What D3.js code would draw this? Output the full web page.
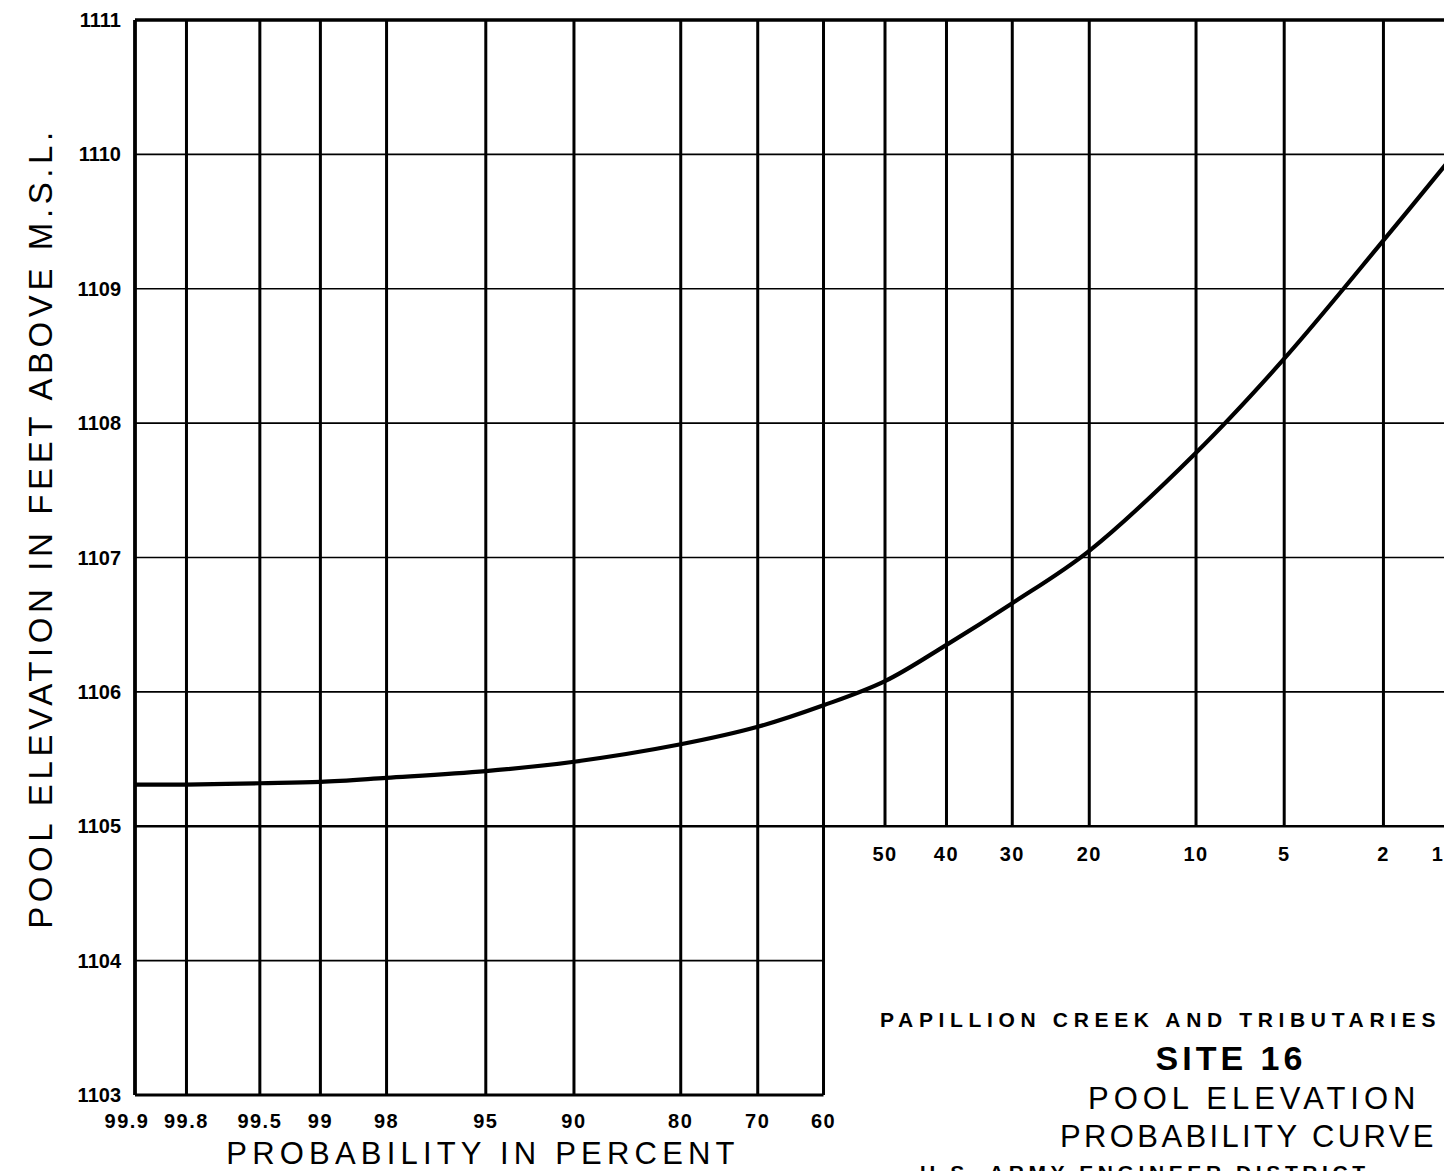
<!DOCTYPE html>
<html>
<head>
<meta charset="utf-8">
<script src="https://cdn.jsdelivr.net/npm/d3@7/dist/d3.min.js"></script>
<style>
  html, body { margin: 0; padding: 0; background: #fff; }
  svg { display: block; }
</style>
</head>
<body>
<svg id="chart" width="1444" height="1171"></svg>
<script>
// ---- data ----
const leftProbLabels  = ["99.9", "99.8", "99.5", "99", "98", "95", "90", "80", "70", "60"];
const rightProbLabels = ["50", "40", "30", "20", "10", "5", "2", "1"];
const leftProbs  = [99.9, 99.8, 99.5, 99, 98, 95, 90, 80, 70, 60];
const rightProbs = [50, 40, 30, 20, 10, 5, 2, 1];
const elevTicksFull  = [1103, 1104, 1105, 1106, 1107, 1108, 1109, 1110, 1111];
// curve: exceedance probability (%) vs pool elevation (ft)
const curveProb = [99.9, 99.8, 99.5, 99, 98, 95, 90, 80, 70, 60, 50, 40, 30, 20, 10, 5, 2, 1];
const curveElev = [1105.31, 1105.31, 1105.32, 1105.33, 1105.36, 1105.41, 1105.48, 1105.61, 1105.74, 1105.90,
                   1106.08, 1106.35, 1106.66, 1107.05, 1107.78, 1108.48, 1109.36, 1109.96];

// ---- inverse normal CDF (probability-paper transform) ----
function invNorm(p) {
  const a = [-3.969683028665376e+01, 2.209460984245205e+02, -2.759285104469687e+02, 1.383577518672690e+02, -3.066479806614716e+01, 2.506628277459239e+00];
  const b = [-5.447609879822406e+01, 1.615858368580409e+02, -1.556989798598866e+02, 6.680131188771972e+01, -1.328068155288572e+01];
  const c = [-7.784894002430293e-03, -3.223964580411365e-01, -2.400758277161838e+00, -2.549671010115819e+00, 4.374664141464968e+00, 2.938163982698783e+00];
  const d = [7.784695709041462e-03, 3.224671290700398e-01, 2.445134137142996e+00, 3.754408661907416e+00];
  const pl = 0.02425, ph = 1 - pl;
  let q, r;
  if (p < pl) { q = Math.sqrt(-2 * Math.log(p));
    return (((((c[0]*q+c[1])*q+c[2])*q+c[3])*q+c[4])*q+c[5]) / ((((d[0]*q+d[1])*q+d[2])*q+d[3])*q+1); }
  if (p <= ph) { q = p - 0.5; r = q*q;
    return (((((a[0]*r+a[1])*r+a[2])*r+a[3])*r+a[4])*r+a[5])*q / (((((b[0]*r+b[1])*r+b[2])*r+b[3])*r+b[4])*r+1); }
  q = Math.sqrt(-2 * Math.log(1 - p));
  return -(((((c[0]*q+c[1])*q+c[2])*q+c[3])*q+c[4])*q+c[5]) / ((((d[0]*q+d[1])*q+d[2])*q+d[3])*q+1);
}

const svg = d3.select("#chart");
const xLin = d3.scaleLinear().domain([invNorm(0.001), 0]).range([135, 885]);
const x = p => xLin(invNorm(1 - p / 100));
const y = d3.scaleLinear().domain([1103, 1111]).range([1095, 20]);

const X_LEFT = x(99.9), X_SPLIT = x(60), X_RIGHT = 1444;
const g = svg.append("g");
const FONT = "Liberation Sans, Arial, sans-serif";

// horizontal grid lines
g.selectAll("line.h").data(elevTicksFull).enter().append("line")
  .attr("x1", X_LEFT)
  .attr("x2", d => (d >= 1105 ? X_RIGHT : X_SPLIT))
  .attr("y1", d => y(d)).attr("y2", d => y(d))
  .attr("stroke", "#000")
  .attr("stroke-width", d => (d === 1111 ? 3.5 : d === 1103 ? 3 : d === 1105 ? 2.4 : 1.7));

// vertical grid lines (left part runs to 1103, right part to 1105)
g.selectAll("line.vl").data(leftProbs).enter().append("line")
  .attr("x1", d => x(d)).attr("x2", d => x(d))
  .attr("y1", y(1111)).attr("y2", y(1103))
  .attr("stroke", "#000")
  .attr("stroke-width", d => (d === 99.9 ? 3.8 : 3));
g.selectAll("line.vr").data(rightProbs).enter().append("line")
  .attr("x1", d => x(d)).attr("x2", d => x(d))
  .attr("y1", y(1111)).attr("y2", y(1105))
  .attr("stroke", "#000")
  .attr("stroke-width", 3);

// y tick labels
g.selectAll("text.yt").data(elevTicksFull).enter().append("text")
  .attr("x", 121).attr("y", d => y(d) + 7)
  .attr("text-anchor", "end")
  .attr("font-family", FONT)
  .attr("font-weight", "bold").attr("font-size", 20)
  .text(d => d);

// x tick labels, left part (below 1103)
g.selectAll("text.xl").data(leftProbs).enter().append("text")
  .attr("x", (d, i) => x(d) - (i === 0 ? 8 : 0)).attr("y", 1128)
  .attr("text-anchor", "middle")
  .attr("font-family", FONT)
  .attr("font-weight", "bold").attr("font-size", 20).attr("letter-spacing", 1.5)
  .text((d, i) => leftProbLabels[i]);

// x tick labels, right part (below 1105)
g.selectAll("text.xr").data(rightProbs).enter().append("text")
  .attr("x", d => Math.min(x(d), 1438)).attr("y", 861)
  .attr("text-anchor", "middle")
  .attr("font-family", FONT)
  .attr("font-weight", "bold").attr("font-size", 20).attr("letter-spacing", 1.5)
  .text((d, i) => rightProbLabels[i]);

// curve
const pts = curveProb.map((p, i) => [x(p), y(curveElev[i])]);
svg.append("path")
  .attr("d", d3.line().curve(d3.curveCatmullRom.alpha(0.5))(pts))
  .attr("fill", "none").attr("stroke", "#000").attr("stroke-width", 4.2);

// axis titles
svg.append("text")
  .attr("transform", "translate(52,528) rotate(-90)")
  .attr("text-anchor", "middle")
  .attr("font-family", FONT)
  .attr("font-size", 33).attr("letter-spacing", 4.6)
  .text("POOL ELEVATION IN FEET ABOVE M.S.L.");

svg.append("text")
  .attr("x", 483).attr("y", 1164)
  .attr("text-anchor", "middle")
  .attr("font-family", FONT)
  .attr("font-size", 31).attr("letter-spacing", 5.2)
  .text("PROBABILITY IN PERCENT");

// title block
svg.append("text")
  .attr("x", 880).attr("y", 1027)
  .attr("font-family", FONT)
  .attr("font-weight", "bold").attr("font-size", 21).attr("letter-spacing", 4.6)
  .attr("textLength", 560).attr("lengthAdjust", "spacing")
  .text("PAPILLION CREEK AND TRIBUTARIES");
svg.append("text")
  .attr("x", 1231).attr("y", 1070)
  .attr("text-anchor", "middle")
  .attr("font-family", FONT)
  .attr("font-weight", "bold").attr("font-size", 34).attr("letter-spacing", 4)
  .text("SITE 16");
svg.append("text")
  .attr("x", 1088).attr("y", 1109)
  .attr("font-family", FONT)
  .attr("font-size", 31).attr("letter-spacing", 4.6)
  .attr("textLength", 332).attr("lengthAdjust", "spacing")
  .text("POOL ELEVATION");
svg.append("text")
  .attr("x", 1060).attr("y", 1147)
  .attr("font-family", FONT)
  .attr("font-size", 31).attr("letter-spacing", 4.6)
  .attr("textLength", 378).attr("lengthAdjust", "spacing")
  .text("PROBABILITY CURVE");
svg.append("text")
  .attr("x", 920).attr("y", 1180)
  .attr("font-family", FONT)
  .attr("font-weight", "bold").attr("font-size", 21).attr("letter-spacing", 4.6)
  .text("U.S. ARMY ENGINEER DISTRICT");
</script>
</body>
</html>
